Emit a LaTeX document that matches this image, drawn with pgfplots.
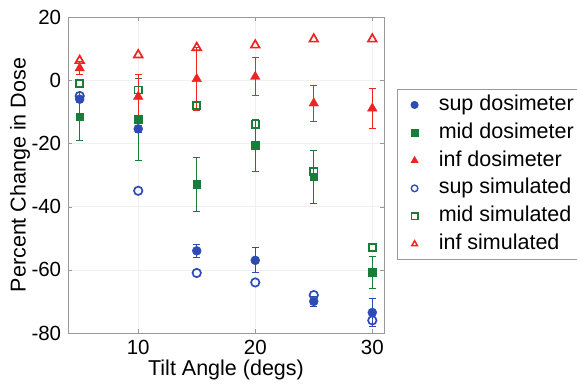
\documentclass[border=0pt]{standalone}
\usepackage{pgfplots}
\pgfplotsset{compat=1.18}
\usepackage{fontspec}
\setmainfont{Liberation Sans}
\definecolor{cblue}{RGB}{45,75,180}
\definecolor{cgreen}{RGB}{25,125,55}
\definecolor{cred}{RGB}{240,35,35}
\begin{document}
\fontsize{20}{24}\selectfont
\begin{tikzpicture}
\path[use as bounding box] (-68pt,-50pt) rectangle (509pt,333pt);
\begin{axis}[
  scale only axis, width=316pt, height=316pt,
  at={(0,0)}, anchor=south west,
  xmin=4, xmax=31, ymin=-80, ymax=20,
  xtick={10,20,30}, ytick={-80,-60,-40,-20,0,20},
  tick align=inside, major tick length=4pt,
  grid=major, grid style={gray!12, line width=0.6pt},
  axis line style={gray!80, line width=0.8pt},
  tick style={gray!80},
  /pgf/number format/assume math mode=true,
  ticklabel style={font=\fontsize{20.5}{24}\selectfont},
  label style={font=\fontsize{21.5}{25}\selectfont},
  xlabel={Tilt Angle (degs)},
  ylabel={Percent Change in Dose},
  xlabel style={yshift=8pt},
  ylabel style={yshift=-12pt},
  legend style={at={(1.041,0.772)}, anchor=north west, draw=gray!80, line width=0.8pt,
    font=\fontsize{21.5}{25}\selectfont, row sep=2.8pt, inner xsep=3pt, inner ysep=3pt,
    nodes={text height=16pt, text depth=5pt, inner ysep=2pt}},
  legend cell align=left,
  legend image code/.code={\path[draw=none, fill=none] (-0.5cm,0) -- (0.78cm,0); \draw[mark size=3.3pt, line width=1.4pt] plot coordinates {(0cm,0cm)};},
  error bars/error bar style={line width=1pt},
  error bars/error mark options={rotate=90, mark size=3.5pt, line width=1pt},
]
\addplot[only marks, color=cblue, mark=*, mark size=4.5pt, mark options={fill=cblue},
  error bars/.cd, y dir=both, y explicit] table[x=x, y=y, y error=e] {
x y e
5 -6 1
10 -15.4 1
15 -54 2
20 -57 4
25 -70 1.5
30 -73.5 4.5
};
\addlegendentry{sup dosimeter}
\addplot[only marks, color=cgreen, mark=square*, mark size=3.8pt, mark options={fill=cgreen},
  error bars/.cd, y dir=both, y explicit] table[x=x, y=y, y error=e] {
x y e
5 -11.6 7.6
10 -12.4 13
15 -33 8.5
20 -20.6 8.2
25 -30.5 8.4
30 -60.8 5
};
\addlegendentry{mid dosimeter}
\addplot[only marks, color=cred, mark=triangle*, mark size=5.5pt, mark options={fill=cred},
  error bars/.cd, y dir=both, y explicit] table[x=x, y=y, y error=e] {
x y e
5 3.8 2
10 -5.2 7
15 0.4 10
20 1.1 6
25 -7.3 5.7
30 -8.9 6.3
};
\addlegendentry{inf dosimeter}
\addplot[only marks, color=cblue, mark=o, mark size=4.2pt, line width=1.7pt] table[x=x, y=y] {
x y
5 -5
10 -35
15 -61
20 -64
25 -68
30 -76
};
\addlegendentry{sup simulated}
\addplot[only marks, color=cgreen, mark=square, mark size=3.6pt, line width=1.7pt] table[x=x, y=y] {
x y
5 -1
10 -3.1
15 -8
20 -13.9
25 -29
30 -53
};
\addlegendentry{mid simulated}
\addplot[only marks, color=cred, mark=triangle, mark size=5pt, line width=1.7pt] table[x=x, y=y] {
x y
5 6.2
10 8
15 10.3
20 11.1
25 13
30 13
};
\addlegendentry{inf simulated}
\end{axis}
\end{tikzpicture}
\end{document}
